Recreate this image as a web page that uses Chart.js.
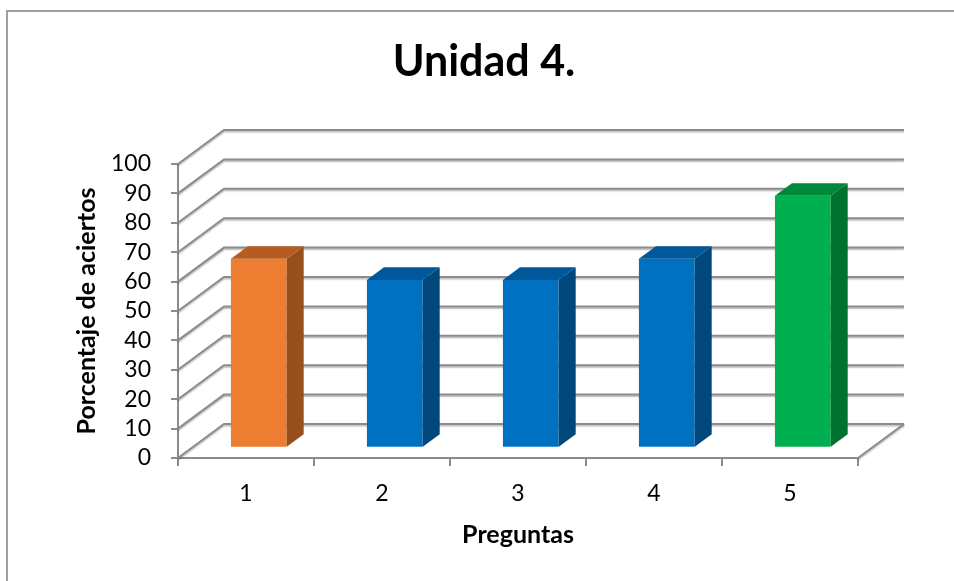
<!DOCTYPE html>
<html>
<head>
<meta charset="utf-8">
<script src="https://cdn.jsdelivr.net/npm/chart.js@4"></script>
<style>
  html, body { margin: 0; padding: 0; background: #fff; overflow: hidden; }
  #wrap { width: 954px; height: 581px; position: relative; }
</style>
</head>
<body>
<div id="wrap"><canvas id="grafica"></canvas></div>
<script>
// Categories and values
const preguntas = ['1', '2', '3', '4', '5'];
const porcentajeAciertos = [64.3, 57.1, 57.1, 64.3, 85.7];
const escalaY = [0, 10, 20, 30, 40, 50, 60, 70, 80, 90, 100];

// Face colours of each column (front, side, top)
const colorFrente = ['#ED7D31', '#0070C0', '#0070C0', '#0070C0', '#00B050'];
const colorLado   = ['#974F1D', '#00477B', '#00477B', '#00477B', '#00722F'];
const colorTapa   = ['#B45C22', '#00589A', '#00589A', '#00589A', '#00883A'];

// Depth of the 3D floor (vector from front edge to back wall)
const PROF = { dx: 46, dy: -34 };
const COL_Z = 0.30;   // front face of the columns, as a share of the depth
const COL_D = 0.37;   // column depth, as a share of the depth
const GRIS = '#8c8c8c';

Chart.defaults.font.family = 'Lato, "Open Sans", sans-serif';
Chart.defaults.color = '#000';

const vista3D = {
  id: 'vista3D',
  beforeDraw(chart) {
    const { ctx, width, height } = chart;
    ctx.save();
    ctx.fillStyle = '#fff';
    ctx.fillRect(0, 0, width, height);
    ctx.strokeStyle = '#a0a0a0';
    ctx.lineWidth = 2;
    ctx.beginPath();
    ctx.moveTo(7, height + 5);
    ctx.lineTo(7, 11);
    ctx.lineTo(width + 5, 11);
    ctx.stroke();
    ctx.restore();
  },
  beforeDatasetsDraw(chart) {
    const { ctx, chartArea: a, scales: { y } } = chart;
    ctx.save();
    ctx.strokeStyle = GRIS;
    ctx.lineWidth = 2;
    ctx.shadowColor = 'rgba(0,0,0,0.28)';
    ctx.shadowOffsetY = 1.5;
    ctx.shadowBlur = 1.5;
    // side wall + back wall lines
    y.ticks.forEach(t => {
      const p = y.getPixelForValue(t.value);
      ctx.beginPath();
      ctx.moveTo(a.left, p);
      ctx.lineTo(a.left + PROF.dx, p + PROF.dy);
      ctx.lineTo(a.right + PROF.dx, p + PROF.dy);
      ctx.stroke();
    });
    // right edge of the floor
    const b = y.getPixelForValue(0);
    ctx.beginPath();
    ctx.moveTo(a.right, b);
    ctx.lineTo(a.right + PROF.dx, b + PROF.dy);
    ctx.stroke();
    ctx.restore();
  },
  beforeDatasetDraw(chart) {
    chart.ctx.save();
    chart.ctx.translate(PROF.dx * COL_Z - 1, PROF.dy * COL_Z);
  },
  afterDatasetDraw(chart, args) {
    const { ctx } = chart;
    const sx = PROF.dx * COL_D, sy = PROF.dy * COL_D;
    args.meta.data.forEach((bar, i) => {
      const { x, y, base, width } = bar.getProps(['x', 'y', 'base', 'width'], true);
      const l = x - width / 2, r = x + width / 2;
      ctx.fillStyle = colorLado[i];
      ctx.beginPath();
      ctx.moveTo(r, y);
      ctx.lineTo(r + sx, y + sy);
      ctx.lineTo(r + sx, base + sy);
      ctx.lineTo(r, base);
      ctx.closePath();
      ctx.fill();
      ctx.fillStyle = colorTapa[i];
      ctx.beginPath();
      ctx.moveTo(l, y);
      ctx.lineTo(l + sx, y + sy);
      ctx.lineTo(r + sx, y + sy);
      ctx.lineTo(r, y);
      ctx.closePath();
      ctx.fill();
    });
    ctx.restore();
  }
};

new Chart(document.getElementById('grafica'), {
  type: 'bar',
  data: {
    labels: preguntas,
    datasets: [{
      data: porcentajeAciertos,
      backgroundColor: colorFrente,
      borderWidth: 0,
      barPercentage: 0.41,
      categoryPercentage: 1,
      clip: false
    }]
  },
  options: {
    responsive: true,
    maintainAspectRatio: false,
    animation: false,
    events: [],
    layout: { padding: { left: 14, right: 0, top: 0, bottom: 0 } },
    plugins: {
      legend: { display: false },
      tooltip: { enabled: false },
      title: {
        display: true,
        text: 'Unidad 4.',
        color: '#000',
        font: { size: 43, weight: 'bold' },
        padding: { top: 36, bottom: 76.4 }
      }
    },
    scales: {
      x: {
        offset: true,
        grid: { offset: true, drawOnChartArea: false, drawTicks: true, tickLength: 8, color: GRIS, lineWidth: 2 },
        border: { display: true, color: GRIS, width: 2 },
        ticks: { padding: 14, font: { size: 23 }, color: '#000', autoSkip: false, maxRotation: 0 },
        title: { display: true, text: 'Preguntas', font: { size: 25, weight: 'bold' }, color: '#000', padding: { top: 0, bottom: 31 } },
        afterFit(s) { s.height = 123; }
      },
      y: {
        position: 'left',
        min: 0,
        max: 100,
        afterBuildTicks(s) { s.ticks = escalaY.map(v => ({ value: v })); },
        grid: { drawOnChartArea: false, drawTicks: true, tickLength: 7, color: GRIS, lineWidth: 2 },
        border: { display: true, color: GRIS, width: 2 },
        ticks: { padding: 20, font: { size: 23, lineHeight: 1 }, color: '#000', autoSkip: false },
        title: { display: true, text: 'Porcentaje de aciertos', font: { size: 25, weight: 'bold' }, color: '#000', padding: { top: 58, bottom: 0 } },
        afterFit(s) { s.width = 164; }
      },
      margenDerecho: {
        position: 'right',
        display: true,
        grid: { display: false },
        border: { display: false },
        ticks: { display: false },
        afterFit(s) { s.width = 96; }
      }
    }
  },
  plugins: [vista3D]
});
</script>
</body>
</html>
